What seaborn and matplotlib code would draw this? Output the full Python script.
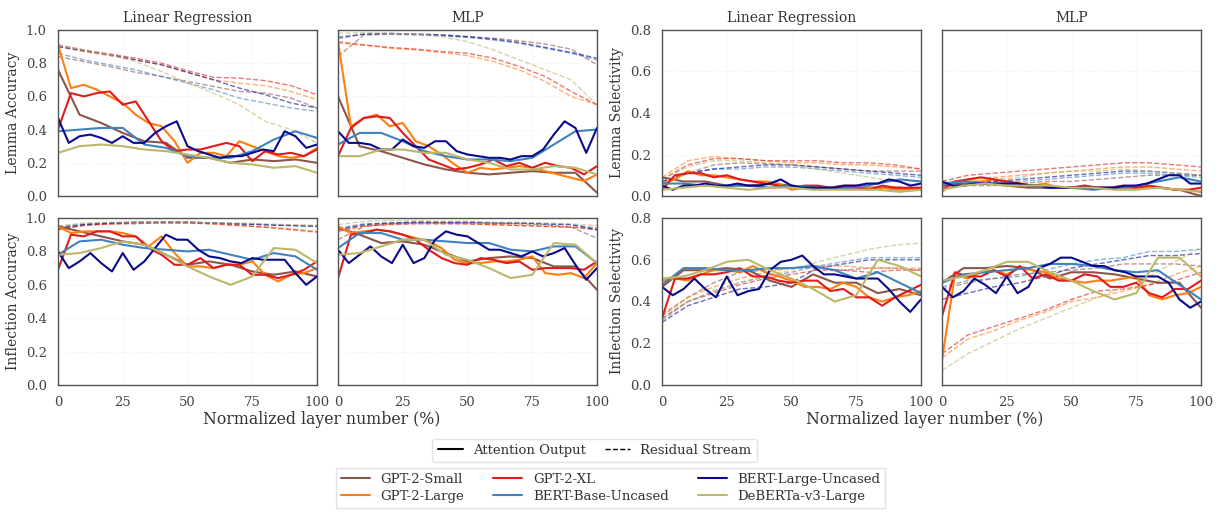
import numpy as np
import pandas as pd
import matplotlib
matplotlib.use("Agg")
import matplotlib.pyplot as plt
from matplotlib.lines import Line2D
import seaborn as sns

# ---------------- data ----------------
models = ["GPT-2-Small", "GPT-2-Large", "GPT-2-XL", "BERT-Base-Uncased", "BERT-Large-Uncased", "DeBERTa-v3-Large"]
keys = ["gs", "gl", "gx", "bb", "bl", "db"]
colors = ["#8c564b", "#ff7f0e", "#e31a1c", "#3f82c0", "#0a0a8c", "#bdb76b"]
panel_titles = ["Linear Regression", "MLP"]
ylabels = ["Lemma Accuracy", "Inflection Accuracy", "Lemma Selectivity", "Inflection Selectivity"]
xticks = [0, 25, 50, 75, 100]

# Lemma accuracy, Linear Regression
lemacc_lr_att_gs = [0.76, 0.49, 0.44, 0.38, 0.33, 0.32, 0.23, 0.23, 0.20, 0.22, 0.21, 0.22, 0.20]
lemacc_lr_att_gl = [0.91, 0.65, 0.67, 0.64, 0.60, 0.56, 0.49, 0.44, 0.42, 0.33, 0.20, 0.26, 0.26, 0.24, 0.33, 0.30, 0.27, 0.24, 0.23, 0.24, 0.29]
lemacc_lr_att_gx = [0.40, 0.62, 0.60, 0.62, 0.63, 0.55, 0.57, 0.45, 0.33, 0.27, 0.28, 0.28, 0.30, 0.32, 0.30, 0.21, 0.27, 0.25, 0.26, 0.24, 0.28]
lemacc_lr_att_bb = [0.39, 0.40, 0.41, 0.41, 0.31, 0.29, 0.24, 0.23, 0.23, 0.27, 0.34, 0.39, 0.35]
lemacc_lr_att_bl = [0.47, 0.32, 0.36, 0.37, 0.35, 0.32, 0.36, 0.32, 0.32, 0.38, 0.42, 0.45, 0.30, 0.27, 0.25, 0.23, 0.24, 0.24, 0.26, 0.28, 0.27, 0.39, 0.36, 0.29, 0.31]
lemacc_lr_att_db = [0.26, 0.30, 0.31, 0.30, 0.28, 0.27, 0.25, 0.23, 0.20, 0.19, 0.17, 0.18, 0.14]
lemacc_lr_res_gs = [0.84, 0.81, 0.78, 0.745, 0.72, 0.69, 0.66, 0.63, 0.62, 0.59, 0.53]
lemacc_lr_res_gl = [0.90, 0.87, 0.845, 0.82, 0.79, 0.745, 0.70, 0.68, 0.665, 0.63, 0.58]
lemacc_lr_res_gx = [0.91, 0.88, 0.855, 0.83, 0.80, 0.755, 0.715, 0.71, 0.695, 0.665, 0.61]
lemacc_lr_res_bb = [0.86, 0.82, 0.79, 0.76, 0.72, 0.68, 0.64, 0.59, 0.56, 0.53, 0.51]
lemacc_lr_res_bl = [0.90, 0.875, 0.85, 0.82, 0.79, 0.745, 0.70, 0.65, 0.61, 0.56, 0.53]
lemacc_lr_res_db = [0.91, 0.88, 0.85, 0.81, 0.75, 0.68, 0.62, 0.55, 0.45, 0.40, 0.32]

# Lemma accuracy, MLP
lemacc_mlp_att_gs = [0.60, 0.30, 0.27, 0.23, 0.19, 0.16, 0.14, 0.13, 0.14, 0.15, 0.14, 0.14, 0.02]
lemacc_mlp_att_gl = [0.93, 0.42, 0.47, 0.49, 0.42, 0.44, 0.33, 0.30, 0.25, 0.19, 0.14, 0.17, 0.16, 0.17, 0.18, 0.17, 0.15, 0.13, 0.11, 0.09, 0.13]
lemacc_mlp_att_gx = [0.24, 0.41, 0.47, 0.48, 0.47, 0.38, 0.30, 0.22, 0.19, 0.16, 0.17, 0.19, 0.22, 0.18, 0.20, 0.17, 0.20, 0.18, 0.17, 0.13, 0.18]
lemacc_mlp_att_bb = [0.31, 0.38, 0.38, 0.33, 0.27, 0.24, 0.22, 0.22, 0.21, 0.23, 0.31, 0.39, 0.40]
lemacc_mlp_att_bl = [0.39, 0.32, 0.32, 0.31, 0.28, 0.28, 0.34, 0.30, 0.29, 0.33, 0.33, 0.27, 0.25, 0.24, 0.23, 0.23, 0.22, 0.24, 0.24, 0.28, 0.37, 0.45, 0.41, 0.26, 0.41]
lemacc_mlp_att_db = [0.24, 0.24, 0.28, 0.28, 0.26, 0.26, 0.22, 0.20, 0.16, 0.16, 0.18, 0.17, 0.13]
lemacc_mlp_res_gs = [0.84, 0.97, 0.975, 0.975, 0.97, 0.96, 0.95, 0.935, 0.915, 0.885, 0.79]
lemacc_mlp_res_gl = [0.92, 0.91, 0.89, 0.88, 0.865, 0.845, 0.81, 0.76, 0.69, 0.60, 0.55]
lemacc_mlp_res_gx = [0.93, 0.91, 0.895, 0.885, 0.87, 0.86, 0.83, 0.78, 0.72, 0.63, 0.55]
lemacc_mlp_res_bb = [0.96, 0.975, 0.975, 0.97, 0.965, 0.955, 0.94, 0.92, 0.89, 0.86, 0.82]
lemacc_mlp_res_bl = [0.95, 0.975, 0.98, 0.975, 0.97, 0.96, 0.945, 0.925, 0.895, 0.865, 0.83]
lemacc_mlp_res_db = [0.98, 0.985, 0.98, 0.975, 0.96, 0.93, 0.88, 0.82, 0.76, 0.70, 0.55]

# Inflection accuracy, Linear Regression
infacc_lr_att_gs = [0.95, 0.92, 0.89, 0.86, 0.84, 0.78, 0.72, 0.74, 0.72, 0.68, 0.66, 0.68, 0.65]
infacc_lr_att_gl = [0.95, 0.91, 0.92, 0.92, 0.92, 0.91, 0.89, 0.83, 0.89, 0.79, 0.71, 0.71, 0.70, 0.72, 0.72, 0.74, 0.66, 0.62, 0.66, 0.67, 0.70]
infacc_lr_att_gx = [0.69, 0.90, 0.89, 0.92, 0.92, 0.89, 0.89, 0.82, 0.78, 0.72, 0.72, 0.76, 0.70, 0.72, 0.72, 0.66, 0.66, 0.64, 0.66, 0.69, 0.74]
infacc_lr_att_bb = [0.78, 0.86, 0.87, 0.84, 0.82, 0.81, 0.80, 0.81, 0.78, 0.75, 0.79, 0.77, 0.69]
infacc_lr_att_bl = [0.80, 0.70, 0.74, 0.79, 0.73, 0.68, 0.79, 0.69, 0.74, 0.82, 0.90, 0.87, 0.87, 0.81, 0.77, 0.76, 0.74, 0.73, 0.76, 0.75, 0.75, 0.75, 0.67, 0.60, 0.65]
infacc_lr_att_db = [0.78, 0.79, 0.82, 0.86, 0.84, 0.78, 0.71, 0.65, 0.60, 0.65, 0.82, 0.81, 0.73]
infacc_lr_res_gs = [0.93, 0.96, 0.965, 0.965, 0.975, 0.975, 0.97, 0.965, 0.96, 0.955, 0.955]
infacc_lr_res_gl = [0.94, 0.96, 0.965, 0.97, 0.97, 0.97, 0.965, 0.955, 0.945, 0.935, 0.92]
infacc_lr_res_gx = [0.93, 0.955, 0.965, 0.97, 0.97, 0.97, 0.965, 0.955, 0.945, 0.93, 0.915]
infacc_lr_res_bb = [0.95, 0.965, 0.97, 0.975, 0.975, 0.975, 0.97, 0.965, 0.96, 0.955, 0.95]
infacc_lr_res_bl = [0.94, 0.96, 0.97, 0.975, 0.975, 0.975, 0.97, 0.965, 0.96, 0.955, 0.95]
infacc_lr_res_db = [0.95, 0.97, 0.975, 0.975, 0.975, 0.975, 0.97, 0.97, 0.965, 0.96, 0.955]

# Inflection accuracy, MLP
infacc_mlp_att_gs = [0.94, 0.90, 0.85, 0.86, 0.84, 0.79, 0.74, 0.76, 0.77, 0.76, 0.71, 0.71, 0.57]
infacc_mlp_att_gl = [0.95, 0.91, 0.92, 0.93, 0.92, 0.90, 0.88, 0.86, 0.82, 0.75, 0.73, 0.73, 0.74, 0.74, 0.75, 0.77, 0.67, 0.66, 0.67, 0.64, 0.73]
infacc_mlp_att_gx = [0.64, 0.90, 0.91, 0.93, 0.92, 0.90, 0.87, 0.81, 0.76, 0.73, 0.72, 0.76, 0.75, 0.73, 0.74, 0.69, 0.70, 0.70, 0.70, 0.69, 0.74]
infacc_mlp_att_bb = [0.82, 0.91, 0.91, 0.87, 0.87, 0.86, 0.85, 0.85, 0.81, 0.80, 0.83, 0.83, 0.73]
infacc_mlp_att_bl = [0.81, 0.73, 0.78, 0.83, 0.77, 0.73, 0.84, 0.73, 0.76, 0.87, 0.92, 0.90, 0.89, 0.85, 0.81, 0.81, 0.79, 0.77, 0.80, 0.77, 0.79, 0.82, 0.72, 0.63, 0.70]
infacc_mlp_att_db = [0.78, 0.79, 0.83, 0.87, 0.87, 0.78, 0.75, 0.70, 0.64, 0.66, 0.85, 0.84, 0.73]
infacc_mlp_res_gs = [0.87, 0.95, 0.965, 0.97, 0.97, 0.97, 0.97, 0.965, 0.96, 0.945, 0.88]
infacc_mlp_res_gl = [0.93, 0.955, 0.965, 0.97, 0.97, 0.965, 0.96, 0.955, 0.95, 0.945, 0.935]
infacc_mlp_res_gx = [0.92, 0.95, 0.96, 0.965, 0.965, 0.965, 0.96, 0.955, 0.95, 0.945, 0.93]
infacc_mlp_res_bb = [0.94, 0.965, 0.97, 0.975, 0.975, 0.975, 0.97, 0.97, 0.965, 0.96, 0.94]
infacc_mlp_res_bl = [0.93, 0.96, 0.97, 0.975, 0.975, 0.975, 0.97, 0.97, 0.965, 0.96, 0.93]
infacc_mlp_res_db = [0.96, 0.98, 0.985, 0.985, 0.98, 0.98, 0.975, 0.975, 0.97, 0.965, 0.955]

# Lemma selectivity, Linear Regression
lemsel_lr_att_gs = [0.09, 0.07, 0.07, 0.05, 0.05, 0.06, 0.05, 0.04, 0.04, 0.04, 0.04, 0.04, 0.03]
lemsel_lr_att_gl = [0.06, 0.08, 0.12, 0.10, 0.10, 0.09, 0.08, 0.07, 0.07, 0.06, 0.03, 0.04, 0.04, 0.04, 0.05, 0.05, 0.04, 0.04, 0.03, 0.03, 0.04]
lemsel_lr_att_gx = [0.03, 0.10, 0.11, 0.11, 0.09, 0.10, 0.08, 0.07, 0.06, 0.05, 0.04, 0.05, 0.05, 0.04, 0.05, 0.04, 0.03, 0.05, 0.04, 0.04, 0.04]
lemsel_lr_att_bb = [0.06, 0.06, 0.05, 0.05, 0.05, 0.04, 0.05, 0.04, 0.04, 0.04, 0.06, 0.08, 0.07]
lemsel_lr_att_bl = [0.05, 0.03, 0.05, 0.05, 0.06, 0.05, 0.05, 0.06, 0.05, 0.05, 0.06, 0.08, 0.05, 0.04, 0.04, 0.04, 0.04, 0.05, 0.05, 0.06, 0.06, 0.08, 0.07, 0.05, 0.06]
lemsel_lr_att_db = [0.03, 0.04, 0.05, 0.04, 0.03, 0.04, 0.04, 0.03, 0.03, 0.03, 0.03, 0.02, 0.03]
lemsel_lr_res_gs = [0.06, 0.11, 0.15, 0.16, 0.155, 0.15, 0.14, 0.13, 0.12, 0.12, 0.12]
lemsel_lr_res_gl = [0.09, 0.17, 0.19, 0.18, 0.17, 0.16, 0.16, 0.15, 0.15, 0.14, 0.13]
lemsel_lr_res_gx = [0.08, 0.15, 0.18, 0.18, 0.17, 0.17, 0.17, 0.16, 0.16, 0.15, 0.13]
lemsel_lr_res_bb = [0.07, 0.11, 0.13, 0.13, 0.14, 0.14, 0.13, 0.12, 0.11, 0.10, 0.09]
lemsel_lr_res_bl = [0.07, 0.11, 0.13, 0.14, 0.15, 0.15, 0.14, 0.13, 0.12, 0.11, 0.10]
lemsel_lr_res_db = [0.08, 0.14, 0.17, 0.17, 0.16, 0.15, 0.13, 0.11, 0.09, 0.07, 0.05]

# Lemma selectivity, MLP
lemsel_mlp_att_gs = [0.06, 0.06, 0.06, 0.05, 0.04, 0.04, 0.04, 0.04, 0.04, 0.04, 0.04, 0.03, 0.00]
lemsel_mlp_att_gl = [0.02, 0.07, 0.07, 0.07, 0.08, 0.07, 0.06, 0.05, 0.06, 0.04, 0.04, 0.05, 0.04, 0.04, 0.05, 0.04, 0.04, 0.04, 0.03, 0.03, 0.02]
lemsel_mlp_att_gx = [0.03, 0.07, 0.08, 0.09, 0.08, 0.07, 0.06, 0.05, 0.04, 0.04, 0.04, 0.05, 0.04, 0.04, 0.05, 0.04, 0.05, 0.04, 0.03, 0.03, 0.04]
lemsel_mlp_att_bb = [0.06, 0.07, 0.06, 0.06, 0.05, 0.04, 0.04, 0.03, 0.04, 0.05, 0.07, 0.09, 0.07]
lemsel_mlp_att_bl = [0.07, 0.05, 0.05, 0.06, 0.06, 0.06, 0.06, 0.06, 0.05, 0.05, 0.04, 0.04, 0.04, 0.04, 0.04, 0.04, 0.04, 0.05, 0.05, 0.06, 0.08, 0.10, 0.10, 0.06, 0.06]
lemsel_mlp_att_db = [0.03, 0.05, 0.06, 0.05, 0.05, 0.05, 0.04, 0.04, 0.03, 0.03, 0.04, 0.03, 0.02]
lemsel_mlp_res_gs = [0.04, 0.05, 0.05, 0.06, 0.07, 0.07, 0.08, 0.09, 0.10, 0.10, 0.10]
lemsel_mlp_res_gl = [0.06, 0.08, 0.09, 0.10, 0.11, 0.12, 0.13, 0.14, 0.14, 0.13, 0.12]
lemsel_mlp_res_gx = [0.07, 0.10, 0.11, 0.12, 0.13, 0.14, 0.15, 0.16, 0.16, 0.15, 0.14]
lemsel_mlp_res_bb = [0.05, 0.06, 0.07, 0.07, 0.08, 0.09, 0.10, 0.11, 0.11, 0.10, 0.09]
lemsel_mlp_res_bl = [0.05, 0.06, 0.07, 0.08, 0.09, 0.10, 0.11, 0.12, 0.12, 0.11, 0.10]
lemsel_mlp_res_db = [0.04, 0.06, 0.08, 0.09, 0.11, 0.12, 0.12, 0.13, 0.12, 0.11, 0.10]

# Inflection selectivity, Linear Regression
infsel_lr_att_gs = [0.47, 0.55, 0.55, 0.56, 0.55, 0.50, 0.47, 0.53, 0.49, 0.49, 0.44, 0.46, 0.43]
infsel_lr_att_gl = [0.50, 0.51, 0.50, 0.53, 0.55, 0.55, 0.54, 0.57, 0.54, 0.52, 0.50, 0.47, 0.47, 0.46, 0.49, 0.47, 0.42, 0.40, 0.42, 0.43, 0.45]
infsel_lr_att_gx = [0.32, 0.51, 0.51, 0.53, 0.53, 0.54, 0.56, 0.52, 0.52, 0.50, 0.49, 0.50, 0.50, 0.45, 0.46, 0.42, 0.42, 0.38, 0.42, 0.45, 0.48]
infsel_lr_att_bb = [0.48, 0.56, 0.56, 0.55, 0.55, 0.56, 0.56, 0.57, 0.55, 0.51, 0.54, 0.49, 0.44]
infsel_lr_att_bl = [0.47, 0.43, 0.46, 0.51, 0.46, 0.42, 0.52, 0.43, 0.45, 0.46, 0.55, 0.59, 0.60, 0.62, 0.57, 0.53, 0.53, 0.52, 0.51, 0.51, 0.51, 0.46, 0.40, 0.35, 0.41]
infsel_lr_att_db = [0.51, 0.52, 0.55, 0.59, 0.60, 0.55, 0.51, 0.46, 0.40, 0.43, 0.60, 0.57, 0.52]
infsel_lr_res_gs = [0.33, 0.42, 0.49, 0.54, 0.55, 0.56, 0.56, 0.55, 0.56, 0.56, 0.55]
infsel_lr_res_gl = [0.34, 0.42, 0.47, 0.51, 0.54, 0.56, 0.57, 0.57, 0.56, 0.56, 0.56]
infsel_lr_res_gx = [0.32, 0.40, 0.44, 0.48, 0.51, 0.53, 0.55, 0.55, 0.54, 0.55, 0.55]
infsel_lr_res_bb = [0.31, 0.40, 0.45, 0.49, 0.52, 0.54, 0.57, 0.59, 0.61, 0.61, 0.61]
infsel_lr_res_bl = [0.30, 0.38, 0.42, 0.46, 0.47, 0.49, 0.56, 0.58, 0.60, 0.60, 0.60]
infsel_lr_res_db = [0.31, 0.40, 0.45, 0.49, 0.52, 0.55, 0.59, 0.62, 0.65, 0.67, 0.68]

# Inflection selectivity, MLP
infsel_mlp_att_gs = [0.49, 0.56, 0.56, 0.57, 0.56, 0.51, 0.54, 0.54, 0.53, 0.51, 0.49, 0.49, 0.37]
infsel_mlp_att_gl = [0.12, 0.53, 0.51, 0.54, 0.55, 0.53, 0.56, 0.55, 0.54, 0.51, 0.50, 0.49, 0.50, 0.50, 0.51, 0.52, 0.43, 0.41, 0.43, 0.44, 0.47]
infsel_mlp_att_gx = [0.33, 0.54, 0.52, 0.52, 0.55, 0.52, 0.57, 0.51, 0.53, 0.50, 0.50, 0.53, 0.52, 0.47, 0.47, 0.49, 0.44, 0.42, 0.46, 0.46, 0.50]
infsel_mlp_att_bb = [0.49, 0.53, 0.54, 0.55, 0.56, 0.58, 0.58, 0.57, 0.55, 0.54, 0.55, 0.48, 0.41]
infsel_mlp_att_bl = [0.47, 0.42, 0.45, 0.51, 0.48, 0.44, 0.52, 0.44, 0.47, 0.56, 0.58, 0.61, 0.61, 0.59, 0.57, 0.57, 0.55, 0.54, 0.52, 0.52, 0.52, 0.49, 0.41, 0.37, 0.40]
infsel_mlp_att_db = [0.50, 0.52, 0.55, 0.59, 0.59, 0.54, 0.50, 0.45, 0.41, 0.44, 0.61, 0.61, 0.52]
infsel_mlp_res_gs = [0.46, 0.49, 0.51, 0.53, 0.54, 0.55, 0.56, 0.58, 0.58, 0.58, 0.57]
infsel_mlp_res_gl = [0.13, 0.22, 0.26, 0.31, 0.35, 0.40, 0.42, 0.45, 0.48, 0.53, 0.57]
infsel_mlp_res_gx = [0.15, 0.24, 0.28, 0.32, 0.36, 0.41, 0.45, 0.46, 0.48, 0.50, 0.54]
infsel_mlp_res_bb = [0.47, 0.50, 0.51, 0.52, 0.55, 0.58, 0.60, 0.61, 0.64, 0.64, 0.65]
infsel_mlp_res_bl = [0.41, 0.44, 0.47, 0.49, 0.52, 0.56, 0.58, 0.60, 0.62, 0.62, 0.63]
infsel_mlp_res_db = [0.07, 0.15, 0.21, 0.27, 0.32, 0.37, 0.42, 0.47, 0.52, 0.59, 0.66]

# ---------------- style ----------------
sns.set_theme(style="whitegrid")
plt.rcParams["font.family"] = ["DejaVu Serif"]
plt.rcParams["axes.edgecolor"] = "#555555"
plt.rcParams["axes.linewidth"] = 1.0
plt.rcParams["grid.color"] = "#ececec"
plt.rcParams["grid.linewidth"] = 0.6
plt.rcParams["grid.linestyle"] = ":"

W, H = 1221, 514
fig = plt.figure(figsize=(W / 100, H / 100), dpi=100)

col_left = [58, 338, 662, 942]
col_w = 259
row_top = [30, 218]
row_h = [166, 167]

panels = [
    ("lemacc_lr", 0, 0), ("lemacc_mlp", 0, 1), ("lemsel_lr", 0, 2), ("lemsel_mlp", 0, 3),
    ("infacc_lr", 1, 0), ("infacc_mlp", 1, 1), ("infsel_lr", 1, 2), ("infsel_mlp", 1, 3),
]
g = globals()

for name, r, c in panels:
    l = col_left[c] / W
    b = 1 - (row_top[r] + row_h[r]) / H
    ax = fig.add_axes([l, b, col_w / W, row_h[r] / H])
    for k, col in zip(keys, colors):
        y = g[f"{name}_res_{k}"]
        x = np.linspace(0, 100, len(y))
        sns.lineplot(x=x, y=y, ax=ax, color=col, lw=1.0, alpha=0.6, linestyle="--", estimator=None)
    for k, col in zip(keys, colors):
        y = g[f"{name}_att_{k}"]
        x = np.linspace(0, 100, len(y))
        sns.lineplot(x=x, y=y, ax=ax, color=col, lw=1.5, estimator=None)
    ax.set_xlim(0, 100)
    ymax = 1.0 if c < 2 else 0.8
    ax.set_ylim(0, ymax)
    ax.set_xticks(xticks)
    ax.set_yticks(np.arange(0, ymax + 0.01, 0.2))
    ax.tick_params(axis="both", labelsize=9.5, colors="#444444", pad=2)
    ax.set_xlabel("")
    if r == 0:
        ax.set_xticklabels([])
        ax.set_title(panel_titles[c % 2], fontsize=10, color="#333333", pad=6)
    if c in (1, 3):
        ax.set_yticklabels([])
        ax.set_ylabel("")
    else:
        ax.set_ylabel(ylabels[(c // 2) * 2 + r], fontsize=10, color="#333333", labelpad=4)
    for s in ax.spines.values():
        s.set_visible(True)
        s.set_color("#555555")

fig.text((58 + 597) / 2 / W - 0.005, 1 - 420 / H, "Normalized layer number (%)", ha="center", va="center",
         fontsize=11.3, color="#333333")
fig.text((662 + 1200) / 2 / W - 0.005, 1 - 420 / H, "Normalized layer number (%)", ha="center", va="center",
         fontsize=11.3, color="#333333")

style_handles = [Line2D([0], [0], color="black", lw=1.5),
                 Line2D([0], [0], color="black", lw=1.0, ls="--")]
leg1 = fig.legend(style_handles, ["Attention Output", "Residual Stream"], ncol=2, loc="upper center",
                  bbox_to_anchor=(0.487, 1 - 432 / H), fontsize=9.5, frameon=True, handlelength=1.9,
                  columnspacing=1.4, borderpad=0.4, edgecolor="#dddddd", fancybox=True)
model_handles = [Line2D([0], [0], color=c, lw=1.5) for c in colors]
leg2 = fig.legend(model_handles, models, ncol=3, loc="upper center",
                  bbox_to_anchor=(0.5, 1 - 461 / H), fontsize=9.5, frameon=True, handlelength=2.2,
                  columnspacing=2.2, borderpad=0.4, labelspacing=0.3, edgecolor="#dddddd", fancybox=False)
for leg in (leg1, leg2):
    for t in leg.get_texts():
        t.set_color("#333333")

fig.savefig("out.png", dpi=100)
